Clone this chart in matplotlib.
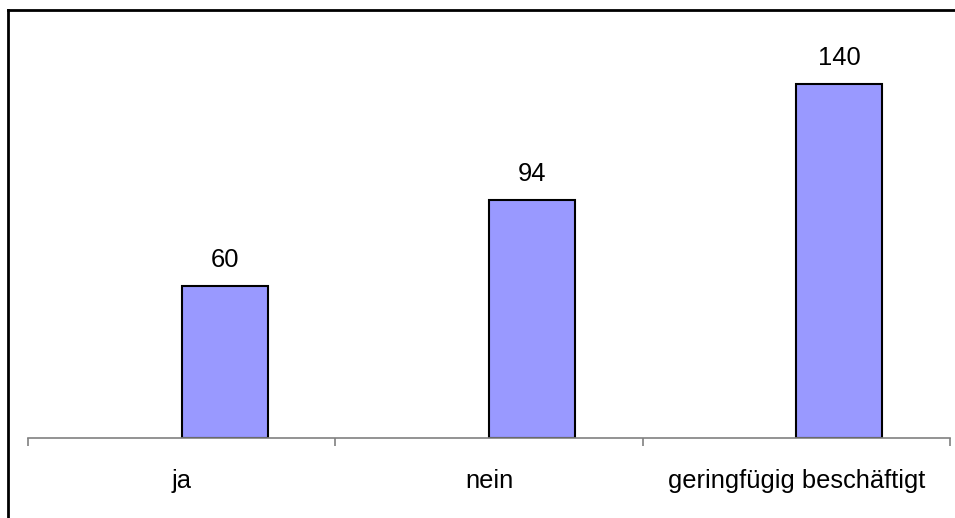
import matplotlib
matplotlib.use("Agg")
import matplotlib.pyplot as plt
from matplotlib.lines import Line2D
import numpy as np

categories = ["ja", "nein", "geringfügig beschäftigt"]
values = [60, 94, 140]

plt.rcParams["font.family"] = ["Liberation Sans", "DejaVu Sans"]

fig = plt.figure(figsize=(9.55, 5.18), dpi=100)
ax = fig.add_axes([28 / 955, 80 / 518, 922 / 955, 405 / 518])

x = np.arange(len(categories))
bar_w = 0.28
bars = ax.bar(x, values, width=bar_w, align="edge", color="#9999FF",
              edgecolor="black", linewidth=1.5)

for xi, v in zip(x, values):
    ax.text(xi + bar_w / 2, v + 5.5, str(v), ha="center", va="bottom", fontsize=18.4)

ax.set_xlim(-0.5, len(categories) - 0.5)
ax.set_ylim(0, 160)

# category labels centred, tick marks between categories
ax.set_xticks(x)
ax.set_xticklabels(categories, fontsize=18.4)
ax.tick_params(axis="x", which="major", length=0, pad=22)
ax.set_xticks(np.arange(-0.5, len(categories)), minor=True)
ax.tick_params(axis="x", which="minor", length=6, width=1.2, color="#808080", direction="out")
ax.set_yticks([])

for s in ["top", "right", "left"]:
    ax.spines[s].set_visible(False)
ax.spines["bottom"].set_color("#808080")
ax.spines["bottom"].set_linewidth(1.2)

# outer frame (open at right and bottom, as in the original)
fig.add_artist(Line2D([8 / 955, 8 / 955], [0, 1 - 10 / 518], color="black", lw=2))
fig.add_artist(Line2D([8 / 955, 1], [1 - 10 / 518, 1 - 10 / 518], color="black", lw=2))

fig.savefig("out.png", dpi=100)
